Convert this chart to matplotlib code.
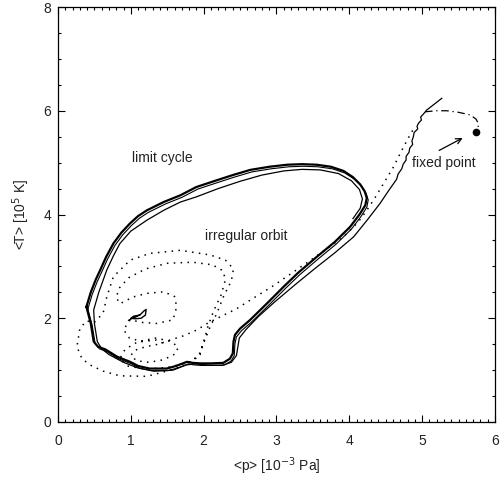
import numpy as np
import matplotlib
matplotlib.use('Agg')
import matplotlib.pyplot as plt
from matplotlib.ticker import MultipleLocator

plt.rcParams['font.family'] = ['Liberation Sans', 'DejaVu Sans']

# limit cycle (thick closed loop)
lc_p = [0.39, 0.45, 0.52, 0.58, 0.66, 0.76, 0.87, 0.99, 1.10, 1.22, 1.45, 1.68, 1.90, 2.18,
        2.40, 2.64, 2.90, 3.15, 3.35, 3.55, 3.75, 3.92, 4.05, 4.15, 4.21, 4.24, 4.22, 4.14,
        4.01, 3.80, 3.55, 3.30, 3.10, 2.88, 2.64, 2.50, 2.43, 2.41, 2.40, 2.36, 2.27, 2.10,
        1.95, 1.85, 1.77, 1.62, 1.49, 1.26, 1.10, 0.99, 0.81, 0.65, 0.55, 0.49, 0.45, 0.39]
lc_T = [2.22, 2.50, 2.75, 2.93, 3.18, 3.44, 3.65, 3.83, 3.97, 4.08, 4.24, 4.37, 4.53, 4.66,
        4.76, 4.86, 4.92, 4.96, 4.97, 4.96, 4.92, 4.84, 4.72, 4.58, 4.45, 4.32, 4.18, 4.00,
        3.76, 3.47, 3.18, 2.88, 2.61, 2.30, 1.97, 1.80, 1.68, 1.55, 1.32, 1.22, 1.14, 1.13,
        1.13, 1.14, 1.16, 1.08, 1.03, 1.03, 1.08, 1.16, 1.26, 1.40, 1.45, 1.55, 1.90, 2.22]

# transient solid trajectory spiralling onto the limit cycle
tr_p = [5.27, 5.06, 5.02, 4.98, 4.99, 4.95, 4.93, 4.94, 4.89, 4.88, 4.86, 4.87, 4.83, 4.82,
        4.78, 4.78, 4.74, 4.72, 4.67, 4.65, 4.55, 4.42, 4.25, 4.06, 3.80, 3.52, 3.25, 2.98,
        2.75, 2.58, 2.49, 2.47, 2.45, 2.38, 2.25, 2.05, 1.88, 1.76, 1.58, 1.32, 1.10, 0.90,
        0.70, 0.60, 0.54, 0.50, 0.49, 0.56, 0.67, 0.76, 0.85, 1.00, 1.22, 1.45, 1.68, 1.90,
        2.20, 2.50, 2.80, 3.10, 3.35, 3.60, 3.85, 4.03, 4.14, 4.18, 4.15, 4.05]
tr_T = [6.24, 6.01, 5.94, 5.88, 5.82, 5.76, 5.70, 5.65, 5.58, 5.50, 5.42, 5.35, 5.28, 5.20,
        5.12, 5.05, 4.97, 4.88, 4.78, 4.68, 4.48, 4.21, 3.90, 3.57, 3.26, 2.95, 2.64, 2.32,
        2.03, 1.78, 1.62, 1.45, 1.28, 1.15, 1.09, 1.10, 1.12, 1.10, 1.00, 0.98, 1.04, 1.15,
        1.30, 1.41, 1.55, 1.90, 2.16, 2.50, 2.93, 3.20, 3.44, 3.68, 3.89, 4.08, 4.24, 4.34,
        4.50, 4.64, 4.76, 4.84, 4.87, 4.86, 4.79, 4.65, 4.48, 4.30, 4.12, 3.92]

# irregular orbit (dotted)
ir_p = [4.87, 4.80, 4.70, 4.60, 4.48, 4.36, 4.24, 4.12, 3.92, 3.70, 3.45, 3.20, 2.95, 2.64,
        2.45, 2.23, 2.05, 1.90, 1.72, 1.54, 1.38, 1.20, 1.05, 1.00, 1.08, 1.25, 1.45, 1.62,
        1.65, 1.55, 1.35, 1.10, 0.92, 0.85, 0.95, 1.20, 1.50, 1.80, 1.95, 2.00, 2.09, 2.18,
        2.27, 2.38, 2.41, 2.30, 2.09, 1.68, 1.26, 0.99, 0.76, 0.67, 0.62, 0.50, 0.39, 0.30,
        0.26, 0.33, 0.44, 0.62, 0.85, 1.22, 1.49, 1.75, 1.93, 2.00, 2.06, 2.14, 2.24, 2.30,
        2.26, 2.12, 1.85, 1.50, 1.20, 0.97, 0.84, 0.80, 0.85, 1.03, 1.22, 1.45, 1.60, 1.63,
        1.58, 1.36, 1.15, 0.99, 0.90, 0.98, 1.15, 1.35, 1.50]
ir_T = [5.62, 5.45, 5.18, 4.90, 4.62, 4.34, 4.08, 3.85, 3.57, 3.35, 3.10, 2.86, 2.62, 2.35,
        2.18, 2.03, 1.90, 1.77, 1.66, 1.58, 1.50, 1.45, 1.38, 1.28, 1.18, 1.15, 1.20, 1.32,
        1.45, 1.55, 1.62, 1.55, 1.40, 1.22, 1.08, 1.02, 1.05, 1.15, 1.30, 1.52, 1.84, 2.09,
        2.41, 2.72, 2.95, 3.12, 3.22, 3.31, 3.25, 3.12, 2.80, 2.41, 2.10, 1.92, 1.95, 1.80,
        1.45, 1.22, 1.10, 0.98, 0.89, 0.88, 0.98, 1.10, 1.26, 1.55, 1.85, 2.15, 2.45, 2.75,
        2.92, 3.03, 3.08, 3.06, 2.95, 2.78, 2.58, 2.40, 2.28, 2.41, 2.48, 2.51, 2.42, 2.22,
        1.97, 1.90, 1.92, 1.97, 1.78, 1.62, 1.55, 1.58, 1.48]

# small solid knot near the centre
kn_p = [0.97, 1.02, 1.06, 1.13, 1.18, 1.21, 1.20, 1.14, 1.06, 1.00, 1.04, 1.12]
kn_T = [1.96, 2.00, 2.02, 2.07, 2.14, 2.17, 2.06, 2.00, 1.99, 2.00, 2.04, 2.06]

# dash-dot approach to the fixed point
dd_p = [5.04, 5.20, 5.34, 5.50, 5.66, 5.74, 5.77, 5.77]
dd_T = [5.98, 6.00, 6.00, 5.97, 5.92, 5.84, 5.76, 5.66]

fixed_p, fixed_T = 5.74, 5.59

fig = plt.figure(figsize=(5.03, 4.83), dpi=100)
ax = fig.add_axes([0.1153, 0.1263, 0.8687, 0.8592])

ax.plot(lc_p, lc_T, color='black', lw=1.6)
ax.plot(np.array(lc_p) + 0.02, np.array(lc_T) - 0.04, color='black', lw=0.8)
ax.plot(tr_p, tr_T, color='black', lw=0.9)
ax.plot(ir_p, ir_T, color='black', lw=1.1, linestyle=(0, (1, 3.5)))
ax.plot(kn_p, kn_T, color='black', lw=1.0)
ax.plot(dd_p, dd_T, color='black', lw=0.9, linestyle=(0, (6, 3, 1, 3)))
ax.plot([fixed_p], [fixed_T], 'o', color='black', ms=4.5)

ax.annotate('', xy=(5.59, 5.50), xytext=(5.20, 5.21),
            arrowprops=dict(arrowstyle='->', color='black', lw=0.9))

txt = '#222222'
ax.text(1.01, 5.08, 'limit cycle', fontsize=10, color=txt, va='center')
ax.text(2.02, 3.58, 'irregular orbit', fontsize=10, color=txt, va='center')
ax.text(4.86, 5.00, 'fixed point', fontsize=10, color=txt, va='center')

ax.set_xlim(0, 6)
ax.set_ylim(0, 8)
ax.xaxis.set_major_locator(MultipleLocator(1))
ax.xaxis.set_minor_locator(MultipleLocator(0.1))
ax.yaxis.set_major_locator(MultipleLocator(2))
ax.yaxis.set_minor_locator(MultipleLocator(0.5))
ax.tick_params(which='both', direction='in', top=True, right=True,
               labelsize=10, labelcolor=txt, width=0.8)
ax.tick_params(which='major', length=5)
ax.tick_params(which='minor', length=2.5)
ax.tick_params(axis='x', pad=9)
ax.tick_params(axis='y', pad=5)
for s in ax.spines.values():
    s.set_linewidth(0.9)

ax.set_xlabel('<p> [10$^{-3}$ Pa]', fontsize=10, color=txt, labelpad=5)
ax.set_ylabel('<T> [10$^{5}$ K]', fontsize=10, color=txt, labelpad=8)

fig.savefig('out.png', dpi=100)
